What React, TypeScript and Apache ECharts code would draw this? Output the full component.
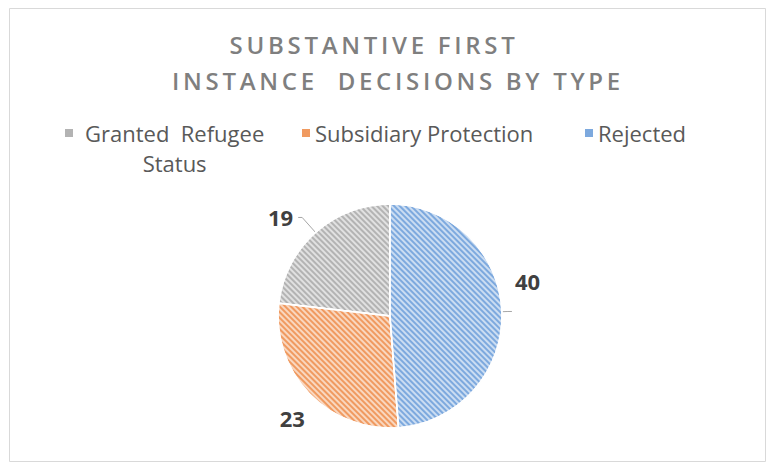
import React, { useEffect, useRef } from 'react';
import * as echarts from 'echarts';

const categories = ['Granted  Refugee Status', 'Subsidiary Protection', 'Rejected'];
const values = [19, 23, 40];
const titleLines = ['SUBSTANTIVE FIRST', 'INSTANCE  DECISIONS BY TYPE'];

const COLORS = ['#b3b3b3', '#f09a60', '#7da9de'];
const TITLE_COLOR = '#7f7f7f';
const LEGEND_COLOR = '#595959';
const FONT = "'Open Sans', 'Noto Sans', sans-serif";

export default function App() {
  const ref = useRef<HTMLDivElement>(null);
  useEffect(() => {
    document.body.style.margin = '0';
    const chart = echarts.init(ref.current!, undefined, { renderer: 'svg' });
    const decal = {
      symbol: 'rect',
      symbolSize: 1,
      dashArrayX: [1, 0],
      dashArrayY: [2, 2],
      rotation: Math.PI / 4,
      color: 'rgba(255,255,255,0.6)',
    };
    const labelShift = [
      [0, 0],
      [5.5, 21.5],
      [-2, -30.5],
    ];
    const lineLen = [
      [20, 4],
      [4, 2],
      [6, 4],
    ];
    const legendLeft = [65, 302, 585];
    const titleLeft = [374, 398];
    const titleTop = [32, 68];

    const option: any = {
      animation: false,
      graphic: [
        {
          type: 'rect',
          silent: true,
          z: -10,
          shape: { x: 9.5, y: 8.5, width: 756, height: 453 },
          style: { fill: 'none', stroke: '#d9d9d9', lineWidth: 1 },
        },
      ],
      title: titleLines.map((t, i) => ({
        text: t,
        left: titleLeft[i],
        top: titleTop[i],
        textAlign: 'center',
        padding: 0,
        textStyle: {
          color: TITLE_COLOR,
          fontFamily: FONT,
          fontWeight: 600,
          fontSize: 24,
        },
      })),
      legend: categories.map((name, i) => ({
        data: [name],
        left: legendLeft[i],
        top: i === 0 ? 88 : 121,
        padding: 0,
        icon: 'rect',
        itemWidth: 8,
        itemHeight: 8,
        selectedMode: false,
        itemStyle: { decal: { symbol: 'none' }, borderWidth: 0 },
        formatter:
          i === 0
            ? (n: string) => {
                const k = n.lastIndexOf(' ');
                return `{a|${n.slice(0, k)}}\n{a|${n.slice(k + 1)}}`;
              }
            : '{name}',
        textStyle:
          i === 0
            ? {
                color: LEGEND_COLOR,
                fontFamily: FONT,
                fontSize: 22,
                lineHeight: 30,
                padding: [30, 0, 0, 7],
                rich: {
                  a: {
                    align: 'center',
                    color: LEGEND_COLOR,
                    fontFamily: FONT,
                    fontSize: 22,
                    lineHeight: 30,
                  },
                },
              }
            : { color: LEGEND_COLOR, fontFamily: FONT, fontSize: 22, lineHeight: 24 },
      })),
      series: [
        {
          type: 'pie',
          center: [390, 316],
          radius: 112,
          startAngle: 90,
          clockwise: false,
          avoidLabelOverlap: false,
          emphasis: { disabled: true },
          itemStyle: { borderColor: '#ffffff', borderWidth: 1.5 },
          label: {
            show: true,
            position: 'outside',
            formatter: '{c}',
            fontFamily: FONT,
            fontWeight: 'bold',
            fontSize: 22,
            color: '#404040',
          },
          labelLine: { show: true, lineStyle: { color: '#a6a6a6', width: 1 } },
          labelLayout: (p: any) => ({
            dx: labelShift[p.dataIndex][0],
            dy: labelShift[p.dataIndex][1],
          }),
          data: categories.map((name, i) => ({
            name,
            value: values[i],
            itemStyle: { color: COLORS[i], decal },
            labelLine: { show: i !== 1, length: lineLen[i][0], length2: lineLen[i][1] },
          })),
        },
      ],
    };
    chart.setOption(option);
    return () => chart.dispose();
  }, []);
  return (
    <>
      <style>{`text[fill="${TITLE_COLOR}"]{letter-spacing:3.7px}`}</style>
      <div ref={ref} style={{ width: 771, height: 469 }} />
    </>
  );
}
